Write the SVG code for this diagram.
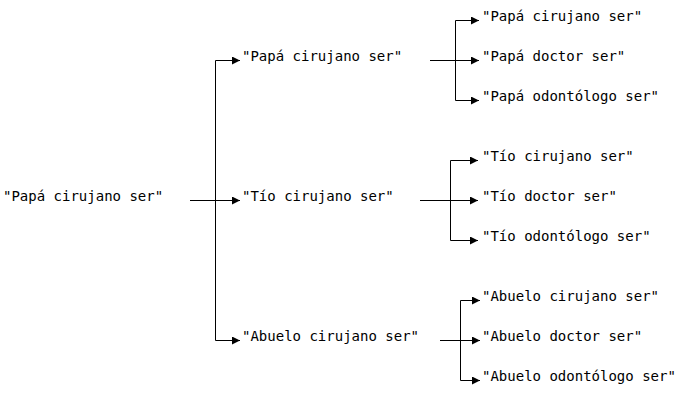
<svg xmlns="http://www.w3.org/2000/svg" width="680" height="400" viewBox="0 0 680 400">
<style>
text{font-family:"DejaVu Sans Mono",monospace;font-size:14px;fill:#000}
.c path{fill:none;stroke:#000;stroke-width:1}
</style>
<defs>
<marker id="ah" viewBox="0 0 10 10" refX="10" refY="5" markerWidth="8" markerHeight="8" markerUnits="userSpaceOnUse" orient="auto">
<path d="M0,0 L10,5 L0,10 z" fill="#000"/>
</marker>
</defs>
<rect width="680" height="400" fill="#fff"/>
<g class="c" id="connectors">
<path d="M190,200.5 H240" marker-end="url(#ah)"/>
<path d="M215.5,200 V60.5 H240" marker-end="url(#ah)"/>
<path d="M215.5,200 V340.5 H240" marker-end="url(#ah)"/>
<path d="M430,60.5 H479" marker-end="url(#ah)"/>
<path d="M455.5,60 V20.5 H479" marker-end="url(#ah)"/>
<path d="M455.5,60 V100.5 H479" marker-end="url(#ah)"/>
<path d="M420,200.5 H478" marker-end="url(#ah)"/>
<path d="M450.5,200 V160.5 H478" marker-end="url(#ah)"/>
<path d="M450.5,200 V240.5 H478" marker-end="url(#ah)"/>
<path d="M440,340.5 H480" marker-end="url(#ah)"/>
<path d="M460.5,340 V300.5 H480" marker-end="url(#ah)"/>
<path d="M460.5,340 V380.5 H480" marker-end="url(#ah)"/>
</g>
<g id="root"><text x="3" y="201">"Papá cirujano ser"</text></g>
<g id="papa"><text x="242" y="61">"Papá cirujano ser"</text></g>
<g id="tio"><text x="242" y="201">"Tío cirujano ser"</text></g>
<g id="abuelo"><text x="242" y="341">"Abuelo cirujano ser"</text></g>
<g id="papa-cirujano"><text x="482" y="21">"Papá cirujano ser"</text></g>
<g id="papa-doctor"><text x="482" y="61">"Papá doctor ser"</text></g>
<g id="papa-odontologo"><text x="482" y="101">"Papá odontólogo ser"</text></g>
<g id="tio-cirujano"><text x="482" y="161">"Tío cirujano ser"</text></g>
<g id="tio-doctor"><text x="482" y="201">"Tío doctor ser"</text></g>
<g id="tio-odontologo"><text x="482" y="241">"Tío odontólogo ser"</text></g>
<g id="abuelo-cirujano"><text x="482" y="301">"Abuelo cirujano ser"</text></g>
<g id="abuelo-doctor"><text x="482" y="341">"Abuelo doctor ser"</text></g>
<g id="abuelo-odontologo"><text x="482" y="381">"Abuelo odontólogo ser"</text></g>
</svg>
